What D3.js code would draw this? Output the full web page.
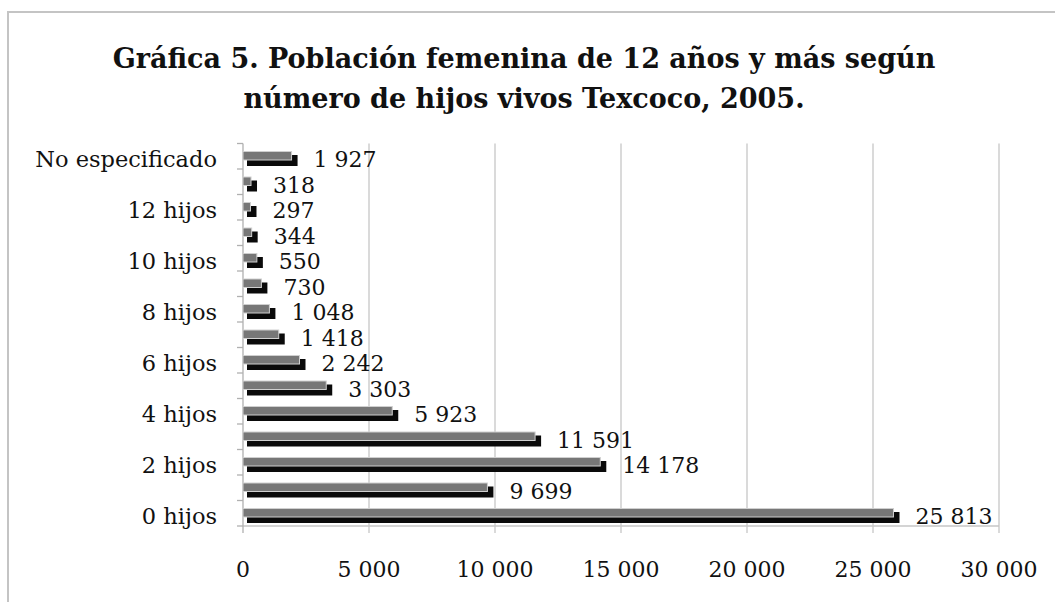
<!DOCTYPE html>
<html>
<head>
<meta charset="utf-8">
<script src="https://cdn.jsdelivr.net/npm/d3@7"></script>
<style>
  body { margin: 0; background: #fff; }
  svg text { font-family: "DejaVu Serif", serif; fill: #111; }
</style>
</head>
<body>
<svg width="1055" height="602"></svg>
<script>
// categories, bottom to top as in the chart
const categories = ['0 hijos', '1 hijo', '2 hijos', '3 hijos', '4 hijos', '5 hijos', '6 hijos',
                    '7 hijos', '8 hijos', '9 hijos', '10 hijos', '11 hijos', '12 hijos',
                    '13 y más hijos', 'No especificado'];
const values = [25813, 9699, 14178, 11591, 5923, 3303, 2242, 1418, 1048, 730, 550, 344, 297, 318, 1927];
const xTicks = [0, 5000, 10000, 15000, 20000, 25000, 30000];
const titleLines = ['Gráfica 5. Población femenina de 12 años y más según',
                    'número de hijos vivos Texcoco, 2005.'];

const svg = d3.select('svg');
const fmt = n => d3.format(',')(n).replace(/,/g, ' ');

// chart frame (only top and left edges show)
svg.append('path')
  .attr('d', 'M8,602 L8,12 L1055,12')
  .attr('fill', 'none')
  .attr('stroke', '#c4c4c4')
  .attr('stroke-width', 2);

// title
svg.append('g').selectAll('text')
  .data(titleLines)
  .enter().append('text')
  .attr('x', 524)
  .attr('y', (d, i) => 68 + i * 40)
  .attr('text-anchor', 'middle')
  .style('font-size', '27px')
  .style('font-weight', 'bold')
  .text(d => d);

const x = d3.scaleLinear().domain([0, 30000]).range([243, 999]);
const order = categories.slice().reverse();   // top to bottom
const y = d3.scaleBand().domain(order).range([143.5, 526]);
const bw = y.bandwidth();

// gridlines
svg.append('g').selectAll('line')
  .data(xTicks.slice(1))
  .enter().append('line')
  .attr('x1', d => x(d)).attr('x2', d => x(d))
  .attr('y1', 143.5).attr('y2', 533)
  .attr('stroke', '#c6c6c6')
  .attr('stroke-width', 1.3);

// x axis line
svg.append('line')
  .attr('x1', x(0)).attr('x2', x(30000))
  .attr('y1', 526).attr('y2', 526)
  .attr('stroke', '#c6c6c6').attr('stroke-width', 1.3);

// y axis with ticks at band edges
svg.append('line')
  .attr('x1', x(0)).attr('x2', x(0))
  .attr('y1', 143.5).attr('y2', 533)
  .attr('stroke', '#b0b0b0').attr('stroke-width', 1.3);
svg.append('g').selectAll('line')
  .data(d3.range(order.length + 1))
  .enter().append('line')
  .attr('x1', 237).attr('x2', x(0))
  .attr('y1', i => 143.5 + i * bw).attr('y2', i => 143.5 + i * bw)
  .attr('stroke', '#b0b0b0').attr('stroke-width', 1.3);

// x tick labels
svg.append('g').selectAll('text')
  .data(xTicks)
  .enter().append('text')
  .attr('x', d => x(d))
  .attr('y', 577)
  .attr('text-anchor', 'middle')
  .style('font-size', '22px')
  .text(fmt);

// y labels, every other category
svg.append('g').selectAll('text')
  .data(order.filter((d, i) => i % 2 === 0))
  .enter().append('text')
  .attr('x', 217)
  .attr('y', d => y(d) + bw - 2)
  .attr('text-anchor', 'end')
  .style('font-size', '22.5px')
  .text(d => d);

const rows = categories.map((c, i) => ({ cat: c, v: values[i] }));

// black depth part
svg.append('g').selectAll('rect')
  .data(rows)
  .enter().append('rect')
  .attr('x', x(0) + 4)
  .attr('y', d => y(d.cat) + 11.5)
  .attr('width', d => x(d.v) - x(0) + 2)
  .attr('height', 11)
  .attr('fill', '#0a0a0a');

// gray front
svg.append('g').selectAll('rect')
  .data(rows)
  .enter().append('rect')
  .attr('x', x(0))
  .attr('y', d => y(d.cat) + 8)
  .attr('width', d => x(d.v) - x(0))
  .attr('height', 8.5)
  .attr('fill', '#777')
  .attr('stroke', '#cfcfcf')
  .attr('stroke-width', 1);

// value labels
svg.append('g').selectAll('text')
  .data(rows)
  .enter().append('text')
  .attr('x', d => x(d.v) + 22)
  .attr('y', d => y(d.cat) + bw - 2)
  .style('font-size', '22px')
  .text(d => fmt(d.v));
</script>
</body>
</html>
